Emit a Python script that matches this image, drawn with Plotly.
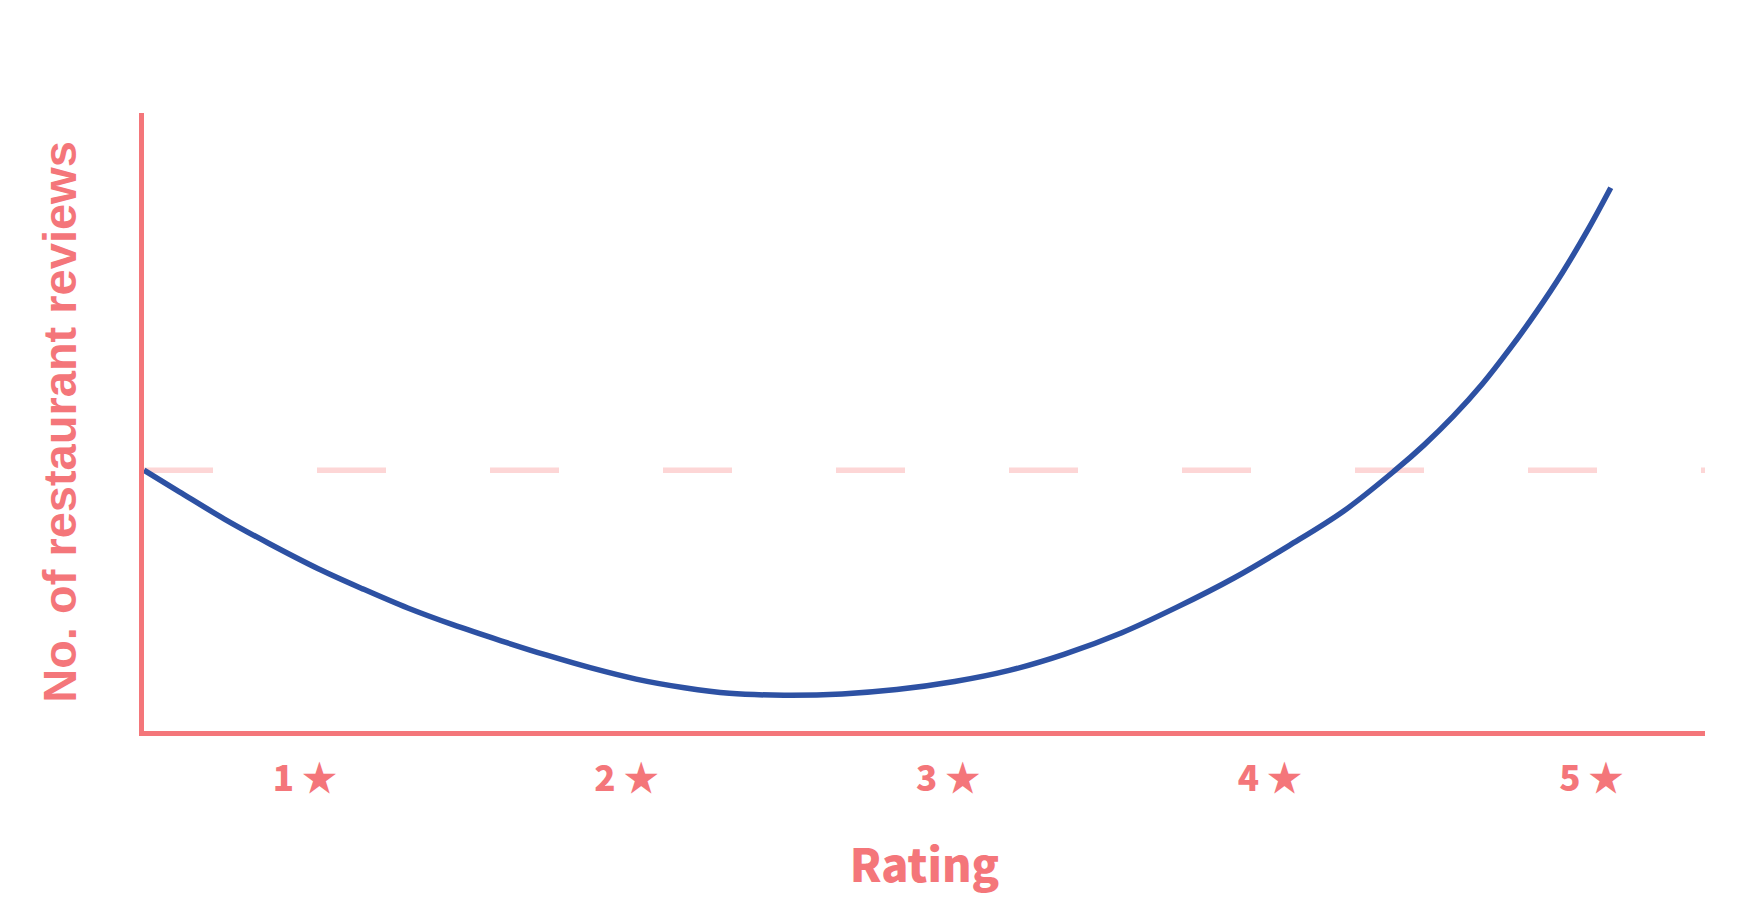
import plotly.graph_objects as go

# rating axis (1..5 stars) and review counts
rating = [0.5, 0.61, 0.75, 0.89, 1.04, 1.18, 1.32, 1.46, 1.61, 1.75, 1.89, 2.03,
          2.18, 2.32, 2.49, 2.67, 2.84, 3.02, 3.19, 3.36, 3.54, 3.71, 3.89, 4.06,
          4.23, 4.39, 4.48, 4.57, 4.66, 4.75, 4.83, 4.91, 4.99, 5.06]
reviews = [42.2, 38.7, 34.3, 30.3, 26.3, 23.0, 19.9, 17.2, 14.6, 12.3, 10.2, 8.4,
           7.0, 6.1, 5.8, 6.0, 6.7, 8.0, 9.8, 12.4, 15.9, 20.0, 24.8, 30.0,
           35.6, 42.2, 46.3, 50.9, 56.1, 62.1, 67.9, 74.2, 81.2, 87.9]
baseline = 42.2

tick_vals = [1, 2, 3, 4, 5]
tick_text = ["1 ★", "2 ★", "3 ★", "4 ★", "5 ★"]

coral = "#F4767A"
blue = "#2D51A3"
pink = "#FDD6D6"

fig = go.Figure()
fig.add_trace(go.Scatter(x=rating, y=reviews, mode="lines",
                         line=dict(color=blue, width=5.5, shape="spline", smoothing=1),
                         hoverinfo="skip"))

# dashed reference level
fig.add_shape(type="line", xref="paper", x0=0, x1=1, yref="y", y0=baseline, y1=baseline,
              line=dict(color=pink, width=5.5, dash="69px,104px"), layer="below")

fig.update_layout(
    width=1744,
    height=914,
    margin=dict(l=136, r=47, t=105, b=191),
    plot_bgcolor="white",
    paper_bgcolor="white",
    showlegend=False,
)
fig.update_xaxes(
    range=[0.5, 5.353],
    tickvals=tick_vals,
    ticktext=tick_text,
    showgrid=False,
    zeroline=False,
    showline=True,
    linecolor=coral,
    linewidth=5,
    ticks="",
    ticklabelstandoff=13,
    tickfont=dict(family="Noto Sans CJK JP", size=35, color=coral, weight=900),
    title=dict(text="Rating", standoff=52,
               font=dict(family="Noto Sans CJK JP", size=45, color=coral, weight=900)),
)
fig.update_yaxes(
    range=[0, 100],
    showgrid=False,
    zeroline=False,
    showline=True,
    linecolor=coral,
    linewidth=5,
    showticklabels=False,
    ticks="",
    title=dict(text="No. of restaurant reviews", standoff=49,
               font=dict(family="Liberation Sans", size=47, color=coral, weight="bold")),
)

fig.write_html("out.html")
